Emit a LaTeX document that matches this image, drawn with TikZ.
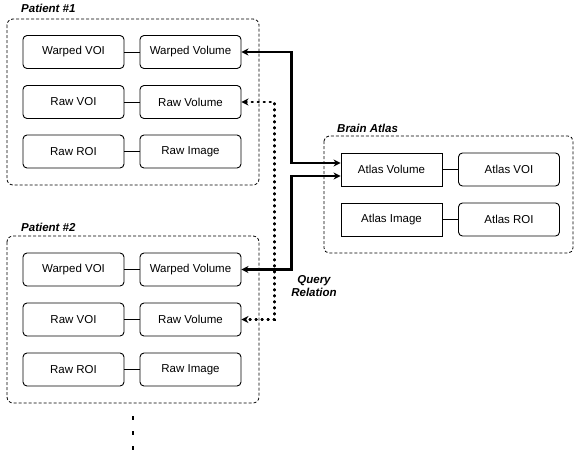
\documentclass[tikz,border=0pt]{standalone}
\usepackage{fontspec}
\setmainfont{Liberation Sans}
\usetikzlibrary{arrows.meta,calc}
\begin{document}
\begin{tikzpicture}[x=1pt,y=-1pt,
  box/.style={draw,line width=0.9pt,rounded corners=4pt,minimum width=101pt,minimum height=33pt,inner sep=0pt,font=\fontsize{11.5}{13}\selectfont},
  sbox/.style={box,rounded corners=0pt},
  group/.style={draw,line width=0.8pt,dash pattern=on 3pt off 2pt,rounded corners=6pt},
  glabel/.style={anchor=west,inner sep=0pt,font=\fontsize{11.5}{13}\selectfont\bfseries\itshape},
  link/.style={line width=0.7pt},
  thickarr/.style={line width=2.4pt,{Stealth[length=7pt,width=7pt]}-{Stealth[length=7pt,width=7pt]}},
  dotarr/.style={line width=2.4pt,line cap=round,dash pattern=on 1pt off 5pt,{Stealth[length=7pt,width=7pt]}-{Stealth[length=7pt,width=7pt]}}]
\useasboundingbox (0,0) rectangle (574,459);
% Patient 1
\node[glabel] (p1l) at (21,8) {Patient \#1};
\draw[group] (7,19) rectangle (259,185);
\node[box] (wvoi1) at (73.5,52) {Warped VOI};
\node[box] (wv1) at (190.5,52) {Warped Volume};
\node[box] (rvoi1) at (73.5,102) {Raw VOI};
\node[box] (rv1) at (190.5,102) {Raw Volume};
\node[box] (rroi1) at (73.5,151.5) {Raw ROI};
\node[box] (ri1) at (190.5,151.5) {Raw Image};
\draw[link] (wvoi1) -- (wv1);
\draw[link] (rvoi1) -- (rv1);
\draw[link] (rroi1) -- (ri1);
% Patient 2
\node[glabel] (p2l) at (21,227) {Patient \#2};
\draw[group] (7,236) rectangle (259,403);
\node[box] (wvoi2) at (73.5,269.5) {Warped VOI};
\node[box] (wv2) at (190.5,269.5) {Warped Volume};
\node[box] (rvoi2) at (73.5,319.5) {Raw VOI};
\node[box] (rv2) at (190.5,319.5) {Raw Volume};
\node[box] (rroi2) at (73.5,369.5) {Raw ROI};
\node[box] (ri2) at (190.5,369.5) {Raw Image};
\draw[link] (wvoi2) -- (wv2);
\draw[link] (rvoi2) -- (rv2);
\draw[link] (rroi2) -- (ri2);
% Brain Atlas
\node[glabel] (bal) at (337,128) {Brain Atlas};
\draw[group,rounded corners=5pt] (324,136) rectangle (573,253);
\node[sbox] (av) at (391.5,169.5) {Atlas Volume};
\node[box] (avoi) at (509,169.5) {Atlas VOI};
\node[sbox] (ai) at (391.5,219.5) {Atlas Image};
\node[box] (aroi) at (509,219.5) {Atlas ROI};
\draw[link] (av) -- (avoi);
\draw[link] (ai) -- (aroi);
% Query relations
\draw[thickarr] (wv1.east) -- ++(50,0) |- ([yshift=6.5pt]av.west);
\draw[thickarr] (wv2.east) -- ++(50,0) |- ([yshift=-6.5pt]av.west);
\draw[dotarr] (rv1.east) -- ++(33,0) |- (rv2.east);
\node[align=center,inner sep=0pt,font=\fontsize{11.5}{13}\selectfont\bfseries\itshape] (qr) at (314,286) {Query\\Relation};
% continuation
\coordinate (c1) at (133,416);
\coordinate (c2) at (133,456);
\draw[line width=2.5pt,dash pattern=on 4pt off 11pt] (c1) -- (c2);
\end{tikzpicture}
\end{document}
